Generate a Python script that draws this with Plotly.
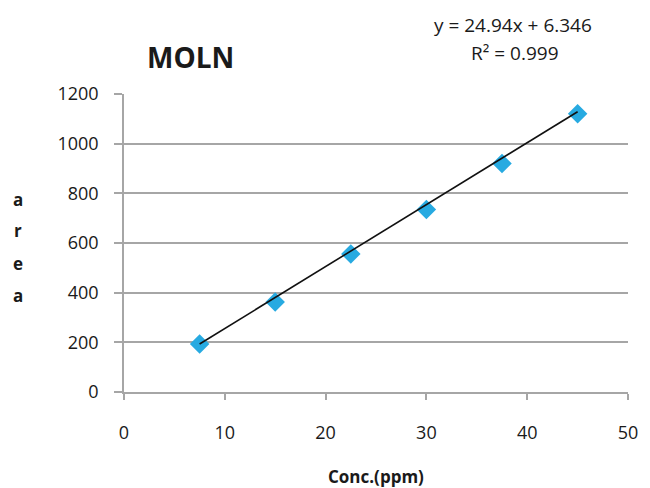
import plotly.graph_objects as go

# Calibration data for MOLN
conc_ppm = [7.5, 15, 22.5, 30, 37.5, 45]
peak_area = [193, 362, 556, 735, 920, 1120]

# Linear trendline coefficients
slope = 24.94
intercept = 6.346
r_squared = 0.999

x_ticks = [0, 10, 20, 30, 40, 50]
y_ticks = [0, 200, 400, 600, 800, 1000, 1200]

W, H = 650, 488
M_L, M_R, M_T, M_B = 124, 17, 94, 96

font_family = "Open Sans, Liberation Sans, sans-serif"
text_color = "#1a1a1a"
grid_color = "#a6a6a6"

trend_x = [min(conc_ppm), max(conc_ppm)]
trend_y = [slope * v + intercept for v in trend_x]

fig = go.Figure()

fig.add_trace(go.Scatter(
    x=conc_ppm, y=peak_area, mode="markers",
    marker=dict(symbol="diamond", size=15, color="#27aae1",
                line=dict(width=0)),
    showlegend=False, cliponaxis=False,
))

fig.add_trace(go.Scatter(
    x=trend_x, y=trend_y, mode="lines",
    line=dict(color="#111111", width=1.6),
    showlegend=False,
))

fig.update_layout(
    width=W, height=H,
    margin=dict(l=M_L, r=M_R, t=M_T, b=M_B),
    paper_bgcolor="white", plot_bgcolor="white",
    font=dict(family=font_family, size=18, color=text_color),
)

fig.update_xaxes(
    range=[0, 50], tickvals=x_ticks, showgrid=False, zeroline=False,
    showline=True, linecolor=grid_color, linewidth=1.5,
    ticks="outside", ticklen=6, tickwidth=1.5, tickcolor=grid_color,
    ticklabelstandoff=18, tickfont=dict(size=18),
)
fig.update_yaxes(
    range=[0, 1200], tickvals=y_ticks, showgrid=True, gridcolor=grid_color,
    gridwidth=1.5, zeroline=False,
    showline=True, linecolor=grid_color, linewidth=1.5,
    ticks="outside", ticklen=8, tickwidth=1.5, tickcolor=grid_color,
    ticklabelstandoff=12, tickfont=dict(size=18),
)


def to_paper(px, py):
    """Pixel position on the page -> paper coordinates of the plot area."""
    pw = W - M_L - M_R
    ph = H - M_T - M_B
    return (px - M_L) / pw, (H - M_B - py) / ph


labels = [
    ("<b>MOLN</b>", 191, 57, 28),
    (f"y = {slope}x + {intercept}", 517, 25, 19),
    (f"R² = {r_squared}", 519, 53, 19),
    ("<b>Conc.(ppm)</b>", 378, 476, 17),
]
# Vertical axis label, one letter per row
for i, ch in enumerate("area"):
    labels.append((f"<b>{ch}</b>", 17, 199 + 32 * i, 17))

annotations = []
for text, px, py, size in labels:
    ax, ay = to_paper(px, py)
    annotations.append(dict(
        text=text, x=ax, y=ay, xref="paper", yref="paper",
        showarrow=False, xanchor="center", yanchor="middle",
        font=dict(size=size),
    ))

fig.update_layout(annotations=annotations)
fig.write_html("out.html")
